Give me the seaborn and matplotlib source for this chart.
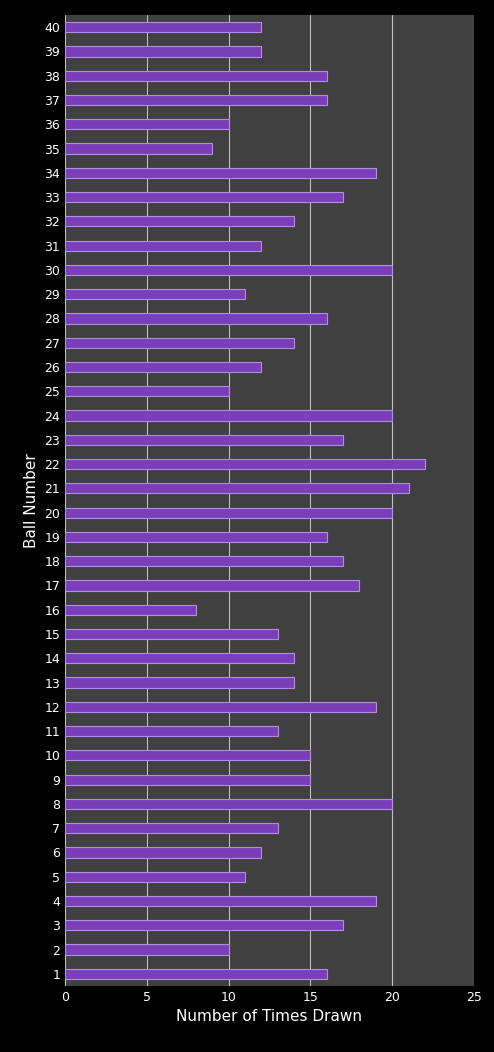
import matplotlib
matplotlib.use("Agg")
import matplotlib.pyplot as plt
import seaborn as sns
import pandas as pd

balls = list(range(1, 41))
counts = [16, 10, 17, 19, 11, 12, 13, 20, 15, 15, 13, 19, 14, 14, 13, 8, 18, 17, 16, 20,
          21, 22, 17, 20, 10, 12, 14, 16, 11, 20, 12, 14, 17, 19, 9, 10, 16, 16, 12, 12]
xticks = [0, 5, 10, 15, 20, 25]

df = pd.DataFrame({"ball": [str(b) for b in balls], "count": counts})
order = [str(b) for b in reversed(balls)]

sns.set_style("dark")
plt.rcParams['font.family'] = ['DejaVu Sans']
fig = plt.figure(figsize=(4.94, 10.52), dpi=100, facecolor="black")
ax = fig.add_axes([65/494, 1-986/1052, 409/494, 971/1052])
ax.set_facecolor("#404040")
sns.barplot(data=df, x="count", y="ball", order=order, orient="h", ax=ax,
            color="#7a3fb8", edgecolor="#b08ee0", linewidth=0.8, width=0.42, saturation=1)
ax.set_xlim(0, 25)
ax.set_xticks(xticks)
ax.xaxis.grid(True, color="#bfbfbf", linewidth=0.8)
ax.yaxis.grid(False)
ax.set_axisbelow(True)
for s in ax.spines.values():
    s.set_visible(False)
ax.tick_params(colors="white", labelsize=9, length=0)
ax.set_xlabel("Number of Times Drawn", color="white", fontsize=11)
ax.set_ylabel("Ball Number", color="white", fontsize=11)
fig.savefig("out.png", facecolor="black")
